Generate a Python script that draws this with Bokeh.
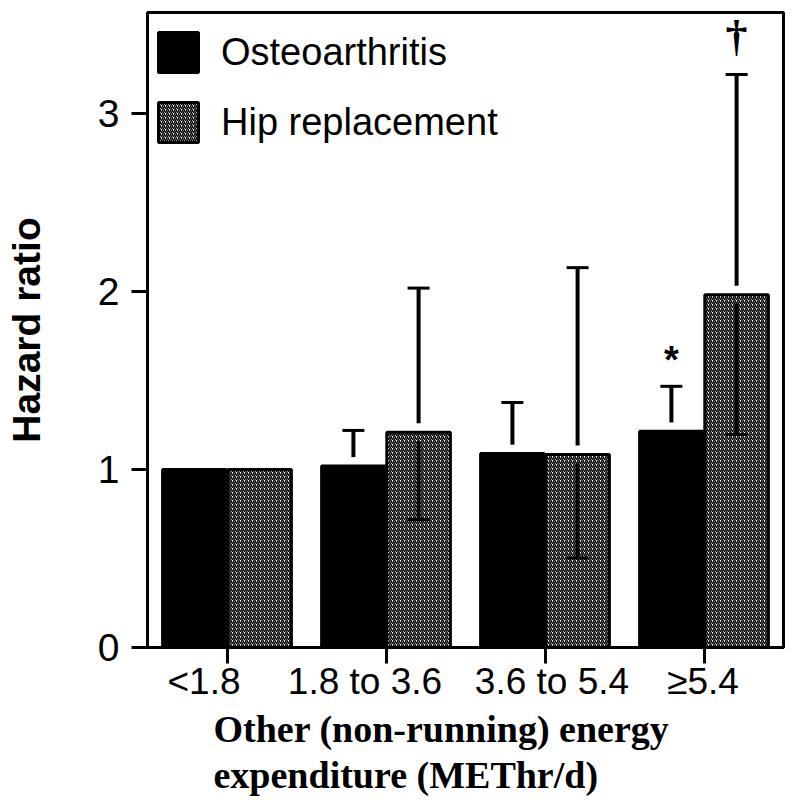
from bokeh.plotting import figure
from bokeh.models import (ColumnDataSource, FixedTicker, Range1d, Legend,
                          LinearAxis, Title, CustomJSTickFormatter)
from bokeh.core.properties import value
from bokeh.transform import dodge
from bokeh.embed import file_html
from bokeh.resources import INLINE

nan = float("nan")

# ---- data ----
categories = ["<1.8", "1.8 to 3.6", "3.6 to 5.4", "\u22655.4"]
oa_hr = [1.0, 1.02, 1.09, 1.215]
oa_upper = [nan, 1.22, 1.377, 1.468]
hip_hr = [1.0, 1.21, 1.085, 1.983]
hip_upper = [nan, 2.02, 2.135, 3.22]
hip_lower = [nan, 0.72, 0.503, 1.197]
oa_sig = ["", "", "", "*"]
hip_sig = ["", "", "", "\u2020"]
y_ticks = [0, 1, 2, 3]
y_title = "Hazard ratio"
x_title_lines = ["Other (non-running) energy", "expenditure (METhr/d)"]

# ---- style ----
gap = 0.05          # white gap between error line and bar top (data units)
off = 0.205         # dodge of each bar from the category centre
bw = 0.4            # bar width
cat_px = 159.0      # pixels per category
tick_label_dx = [-23, -21, 7, -1]   # hand placement of category labels (px)

n = len(categories)
centres = [i + 0.5 for i in range(n)]          # category slots on the x scale
label_pos = [c + d / cat_px for c, d in zip(centres, tick_label_dx)]

src = ColumnDataSource(dict(
    xc=centres, cat=categories,
    oa=oa_hr, oa_up=oa_upper, oa_start=[v + gap for v in oa_hr], oa_sig=oa_sig,
    hip=hip_hr, hip_up=hip_upper, hip_lo=hip_lower,
    hip_start=[v + gap for v in hip_hr], hip_end=[v - gap for v in hip_hr], hip_sig=hip_sig,
))

p = figure(frame_width=636, frame_height=635,
           x_range=Range1d(0, n), y_range=Range1d(0, 3.569),
           output_backend="svg", toolbar_location=None, x_axis_location=None,
           min_border_left=147, min_border_top=12, min_border_right=12, min_border_bottom=158)

p.outline_line_color = "black"
p.outline_line_width = 3
p.xgrid.visible = False
p.ygrid.visible = False
p.background_fill_color = "white"

xo = dodge("xc", -off)
xh = dodge("xc", off)

r_oa = p.vbar(x=xo, top="oa", width=bw, bottom=0, source=src,
              fill_color="black", line_color="black", line_width=3)
r_hip = p.vbar(x=xh, top="hip", width=bw, bottom=0, source=src,
               fill_color="white", line_color="black", line_width=3,
               hatch_pattern="/", hatch_color="black", hatch_scale=4, hatch_weight=1.5)

# error bars
p.segment(x0=xo, y0="oa_start", x1=xo, y1="oa_up", source=src, line_color="black", line_width=4)
p.scatter(x=xo, y="oa_up", marker="dash", size=22, line_width=3, line_color="black", source=src)
p.segment(x0=xh, y0="hip_start", x1=xh, y1="hip_up", source=src, line_color="black", line_width=4)
p.scatter(x=xh, y="hip_up", marker="dash", size=22, line_width=3, line_color="black", source=src)
p.segment(x0=xh, y0="hip_end", x1=xh, y1="hip_lo", source=src, line_color="black", line_width=4)
p.scatter(x=xh, y="hip_lo", marker="dash", size=22, line_width=3, line_color="black", source=src)

# significance marks
p.text(x=xo, y="oa_up", text="oa_sig", source=src, text_align="center", text_baseline="middle",
       y_offset=-26, text_font_size="38px", text_font_style="bold", text_color="black",
       text_font=value("Liberation Sans"))
p.text(x=xh, y="hip_up", text="hip_sig", source=src, text_align="center", text_baseline="middle",
       y_offset=-38, text_font_size="44px", text_font_style="bold", text_color="black",
       text_font=value("Liberation Serif"))

# y axis
ya = p.yaxis[0]
ya.ticker = FixedTicker(ticks=y_ticks)
ya.axis_line_width = 3
ya.major_tick_line_width = 3
ya.major_tick_out = 16
ya.major_tick_in = 0
ya.minor_tick_out = 0
ya.minor_tick_in = 0
ya.major_label_text_font = "Liberation Sans"
ya.major_label_text_color = "black"
ya.major_label_text_font_size = "39px"
ya.major_label_standoff = 12
ya.axis_label = y_title
ya.axis_label_text_font = "Liberation Sans"
ya.axis_label_text_font_style = "bold"
ya.axis_label_text_font_size = "39px"
ya.axis_label_text_color = "black"
ya.axis_label_standoff = 47

# x axis: tick marks at the category centres, labels placed as in the original
xt = LinearAxis(ticker=FixedTicker(ticks=centres),
                formatter=CustomJSTickFormatter(code="return ''"),
                axis_line_width=3, major_tick_line_width=3, major_tick_out=16, major_tick_in=0,
                minor_tick_out=0, minor_tick_in=0, major_label_standoff=0,
                major_label_text_font_size="1px")
xl = LinearAxis(ticker=FixedTicker(ticks=label_pos),
                formatter=CustomJSTickFormatter(args=dict(labels=categories),
                                                code="return labels[index]"),
                axis_line_color=None, major_tick_line_color=None, major_tick_out=0,
                major_tick_in=0, minor_tick_out=0, minor_tick_in=0, major_label_standoff=-3,
                major_label_text_font="Liberation Sans", major_label_text_font_size="37px",
                major_label_text_color="black")
p.add_layout(xt, "below")
p.add_layout(xl, "below")

# two-line x title, left aligned
for line, so in zip(x_title_lines, [3, 1]):
    p.add_layout(Title(text=line, align="left", offset=66, standoff=so,
                       text_font="Liberation Serif", text_font_style="bold",
                       text_font_size="38px", text_color="black"), "below")

legend = Legend(items=[("Osteoarthritis", [r_oa]), ("Hip replacement", [r_hip])],
                location=(6, 500), glyph_width=50, glyph_height=50, spacing=20,
                padding=0, margin=0, label_standoff=18, label_height=50,
                label_text_font="Liberation Sans", label_text_font_size="38px",
                label_text_color="black",
                border_line_alpha=0, background_fill_alpha=0)
p.add_layout(legend)

open("out.html", "w").write(file_html(p, INLINE))
